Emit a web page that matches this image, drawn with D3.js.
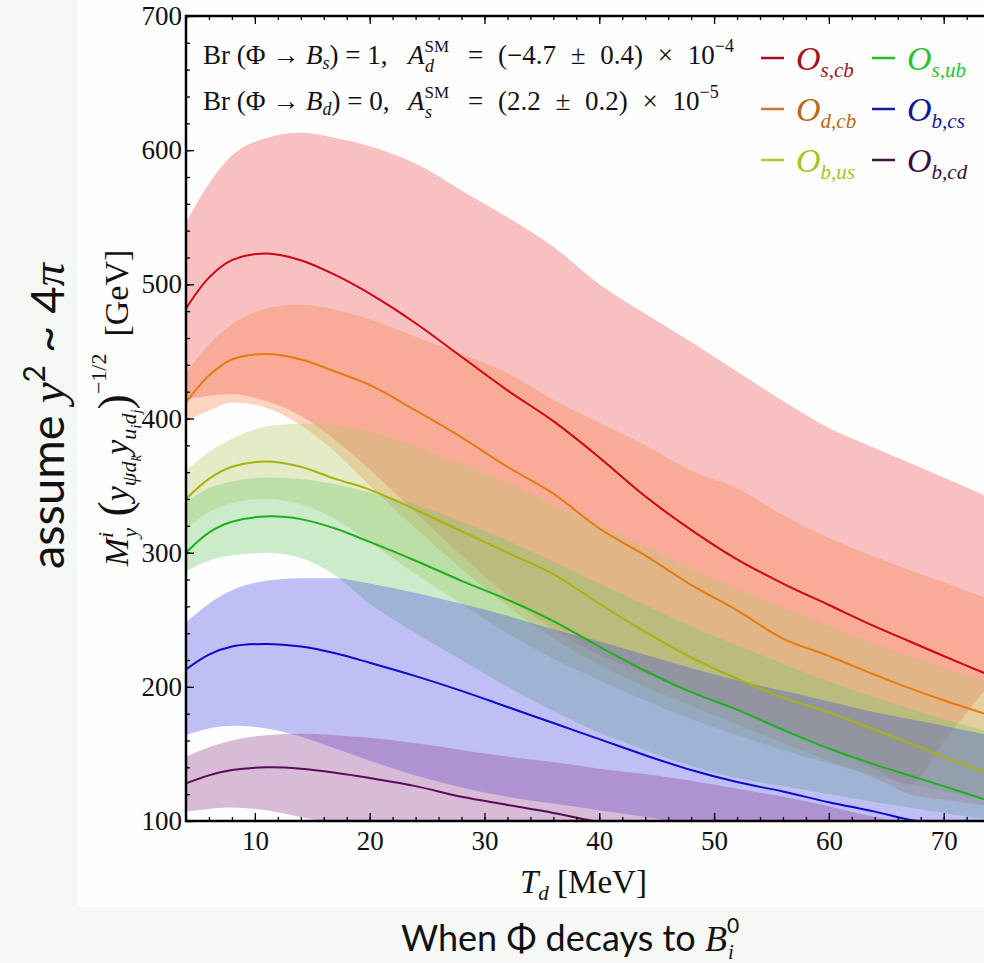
<!DOCTYPE html>
<html><head><meta charset="utf-8">
<script src="https://cdn.jsdelivr.net/npm/d3@7"></script>
<style>
html,body{margin:0;padding:0;background:#f5f8f4;}
svg{display:block;}
text{white-space:pre;}
</style></head>
<body>
<svg id="c" width="984" height="963"></svg>
<script>
// ---- data (T_d in MeV, mass scale in GeV) ----
const T = [4,6,8,11,14,17,20,24,28,32,36,40,44,48,52,56,60,64,67,70,75];

const scbMid = [482,505,518,523,518,507,493,471,446,421,398,371,342,317,295,277,261,245,234,223,205];
const scbUp  = [546,575,596,609,613,609,603,590,570,550,528,500,478,457,435,413,393,378,367,356,337];
const scbLo  = [414,417,418,413,402,384,362,330,298,268,243,224,210,196,182,168,154,139,127,159,213];

const dcbMid = [412,432,444,448,444,435,425,406,386,364,344,318,298,276,257,236,223,209,199,190,176];
const dcbUp  = [434,455,470,482,485,481,474,461,448,434,414,397,380,361,348,328,311,297,287,278,262];
const dcbLo  = [398,406,412,408,395,375,350,318,288,260,236,216,200,186,172,158,145,132,120,116,110];

const busMid = [340,355,364,368,364,355,347,332,316,300,284,262,241,222,206,192,181,168,158,148,132];
const busUp  = [361,375,385,394,396,395,390,379,366,352,336,320,304,288,273,259,245,232,223,214,200];
const busLo  = [318,330,337,340,336,325,308,284,262,240,221,205,190,176,164,153,143,134,128,122,113];

const subMid = [300,315,323,327,325,318,308,294,279,265,249,230,212,196,183,168,154,142,134,126,112];
const subUp  = [338,348,353,356,355,351,345,336,323,309,293,277,261,245,231,217,204,192,184,176,164];
const subLo  = [286,294,298,300,296,283,262,240,220,200,182,166,153,141,132,126,120,114,110,106,100];

const bcsMid = [213,224,230,232,230,225,218,208,197,185,173,161,149,138,129,122,114,107,101,97,89];
const bcsUp  = [248,262,272,279,281,281,277,270,262,253,243,234,224,214,205,197,189,181,176,171,162];
const bcsLo  = [164,169,171,169,163,154,145,134,125,118,113,108,103,98,94,90,86,82,80,78,74];

const bcdMid = [128,134,138,140,139,136,132,126,118,112,106,99,92,85,79,73,68,63,59,56,51];
const bcdUp  = [148,155,160,164,165,164,162,158,153,148,144,139,135,130,124,118,111,103,99,94,86];
const bcdLo  = [107,109,110,108,103,98,94,89,84,80,76,72,68,64,60,57,54,51,49,47,44];

const yTicks = [100,200,300,400,500,600,700];
const xTicks = [10,20,30,40,50,60,70];

const seriesNames = ["scb","dcb","bus","sub","bcs","bcd"];
const legendSubs  = ["s,cb","d,cb","b,us","s,ub","b,cs","b,cd"];
const lineColors  = ["#d00010","#e67a10","#a8b20a","#1db01d","#0b0bcc","#5a0a5a"];
const legLineCol  = ["#a01020","#c87830","#b0c840","#20c020","#1a1aa0","#401040"];
const fillColors  = ["#ee4e4e","#f9884c","#b7c662","#70c86d","#4a4ae6","#8f408f"];
const legendText  = ["#a01020","#b8681a","#a6c424","#2cc02c","#14149a","#3e0c40"];
const mids = [scbMid,dcbMid,busMid,subMid,bcsMid,bcdMid];
const ups  = [scbUp,dcbUp,busUp,subUp,bcsUp,bcdUp];
const los  = [scbLo,dcbLo,busLo,subLo,bcsLo,bcdLo];

// ---- layout ----
const svg = d3.select("#c");
svg.append("rect").attr("x",77).attr("y",0).attr("width",907).attr("height",907).attr("fill","#fdfefd");

const x = d3.scaleLinear().domain([4,75]).range([186, 186 + 71*11.48]);
const y = d3.scaleLinear().domain([100,700]).range([821,16]);

svg.append("clipPath").attr("id","clip").append("rect")
  .attr("x",186).attr("y",16).attr("width",815).attr("height",805);

const plot = svg.append("g").attr("clip-path","url(#clip)");

seriesNames.forEach((n,i)=>{
  const area = d3.area().curve(d3.curveMonotoneX)
    .x((d,k)=>x(T[k])).y0((d,k)=>y(los[i][k])).y1((d,k)=>y(ups[i][k]));
  plot.append("path").datum(T).attr("d",area)
    .attr("fill",fillColors[i]).attr("fill-opacity",0.35).attr("stroke","none");
});
seriesNames.forEach((n,i)=>{
  const line = d3.line().curve(d3.curveCatmullRom.alpha(0.5)).x((d,k)=>x(T[k])).y(d=>y(d));
  plot.append("path").datum(mids[i]).attr("d",line)
    .attr("fill","none").attr("stroke",lineColors[i]).attr("stroke-width",2);
});

// ---- axes ----
const fontSerif = "'Liberation Serif','DejaVu Serif',serif";
function styleAxis(g){ g.select(".domain").remove(); g.selectAll("line").attr("stroke","#000").attr("stroke-width",1.3);
  g.selectAll("text").attr("font-family",fontSerif).attr("font-size",27).attr("fill","#111"); }

svg.append("g").attr("transform","translate(186,0)")
  .call(d3.axisLeft(y).tickValues(d3.range(100,701,20)).tickSize(-4).tickFormat("")).call(styleAxis);
svg.append("g").attr("transform","translate(186,0)")
  .call(d3.axisLeft(y).tickValues(yTicks).tickSize(-8).tickPadding(4)).call(styleAxis);
svg.append("g").attr("transform","translate(0,821)")
  .call(d3.axisBottom(x).tickValues(d3.range(4,75,2)).tickSize(-4).tickFormat("")).call(styleAxis);
svg.append("g").attr("transform","translate(0,821)")
  .call(d3.axisBottom(x).tickValues(xTicks).tickSize(-8).tickPadding(10)).call(styleAxis);
svg.append("g").attr("transform","translate(0,16)")
  .call(d3.axisTop(x).tickValues(d3.range(4,75,2)).tickSize(-4).tickFormat("")).call(styleAxis);
svg.append("g").attr("transform","translate(0,16)")
  .call(d3.axisTop(x).tickValues(xTicks).tickSize(-8).tickFormat("")).call(styleAxis);

svg.append("path").attr("d","M986,16 H186 V821 H986").attr("fill","none").attr("stroke","#000").attr("stroke-width",2.5);

// ---- rich text helper ----
function rich(g, px, py, parts, o){
  const t = g.append("text").attr("x",px).attr("y",py)
    .attr("font-family",o.ff||fontSerif).attr("font-size",o.fs).attr("fill",o.fill||"#111");
  if(o.anchor) t.attr("text-anchor",o.anchor);
  if(o.ws) t.attr("word-spacing",o.ws);
  let cur = 0;
  parts.forEach(p=>{
    const s = t.append("tspan").text(p.t);
    const b = p.b||0;
    s.attr("dy", b-cur); cur = b;
    if(p.fs) s.attr("font-size",p.fs);
    if(p.it) s.attr("font-style","italic");
    if(p.dx) s.attr("dx",p.dx);
    if(p.ff) s.attr("font-family",p.ff);
    if(p.fill) s.attr("fill",p.fill);
  });
  return t;
}

// annotations
rich(svg,203,64,[{t:"Br (Φ → "},{t:"B",it:1},{t:"s",it:1,fs:18,b:5},{t:") = 1,",b:0}],{fs:27});
rich(svg,408,64,[{t:"A",it:1},{t:"SM",fs:17,b:-12},{t:"d",it:1,fs:18,b:8,dx:-24}],{fs:27});
rich(svg,468,64,[{t:"= (−4.7 ± 0.4) × 10"},{t:"−4",fs:18,b:-12}],{fs:27,ws:8});
rich(svg,203,110,[{t:"Br (Φ → "},{t:"B",it:1},{t:"d",it:1,fs:18,b:5},{t:") = 0,",b:0}],{fs:27});
rich(svg,408,110,[{t:"A",it:1},{t:"SM",fs:17,b:-12},{t:"s",it:1,fs:18,b:8,dx:-24}],{fs:27});
rich(svg,468,110,[{t:"= (2.2 ± 0.2) × 10"},{t:"−5",fs:18,b:-12}],{fs:27,ws:8});

// legend
const legPos = [[0,0],[0,1],[0,2],[1,0],[1,1],[1,2]];
seriesNames.forEach((n,i)=>{
  const lx = legPos[i][0]===0 ? 761 : 872;
  const ly = 58 + legPos[i][1]*51;
  svg.append("line").attr("x1",lx).attr("x2",lx+23).attr("y1",ly).attr("y2",ly)
    .attr("stroke",legLineCol[i]).attr("stroke-width",2.5);
  rich(svg,lx+35,ly+12,[{t:"O",it:1},{t:legendSubs[i],it:1,fs:21,b:7}],{fs:34,fill:legendText[i]});
});

// axis titles
rich(svg,520,893,[{t:"T",it:1},{t:"d",it:1,fs:21,b:7},{t:" [MeV]",b:0}],{fs:33});

const yt = svg.append("g").attr("transform","translate(128,408) rotate(-90)");
rich(yt,0,0,[
  {t:"M",it:1},{t:"i",it:1,fs:22,b:-15},{t:"y",it:1,fs:22,b:9,dx:-6},
  {t:" (",fs:46,b:2},{t:"y",it:1,b:0},{t:"ψd",it:1,fs:22,b:8},{t:"k",it:1,fs:15,b:13},
  {t:"y",it:1,b:0},{t:"u",it:1,fs:22,b:8},{t:"i",it:1,fs:15,b:13},{t:"d",it:1,fs:22,b:8},{t:"j",it:1,fs:15,b:13},
  {t:")",fs:46,b:2},{t:"−1/2",fs:22,b:-22},{t:"  [GeV]",b:0}
],{fs:34,anchor:"middle"});

// outer labels
const sans = "Lato,'Open Sans','Noto Sans',sans-serif";
const yl = svg.append("g").attr("transform","translate(64,416) rotate(-90)");
rich(yl,0,0,[{t:"assume "},{t:"y",it:1,ff:fontSerif},{t:"2",fs:30,b:-19},{t:" ~ 4",b:0},{t:"π",it:1,ff:fontSerif}],{fs:47,ff:sans,anchor:"middle"});
rich(svg,570,951,[{t:"When Φ decays to "},{t:"B",it:1,ff:fontSerif},{t:"0",fs:21,b:-18},{t:"i",it:1,fs:21,b:8,dx:-11,ff:fontSerif}],{fs:36,ff:sans,anchor:"middle"});
</script>
</body></html>
